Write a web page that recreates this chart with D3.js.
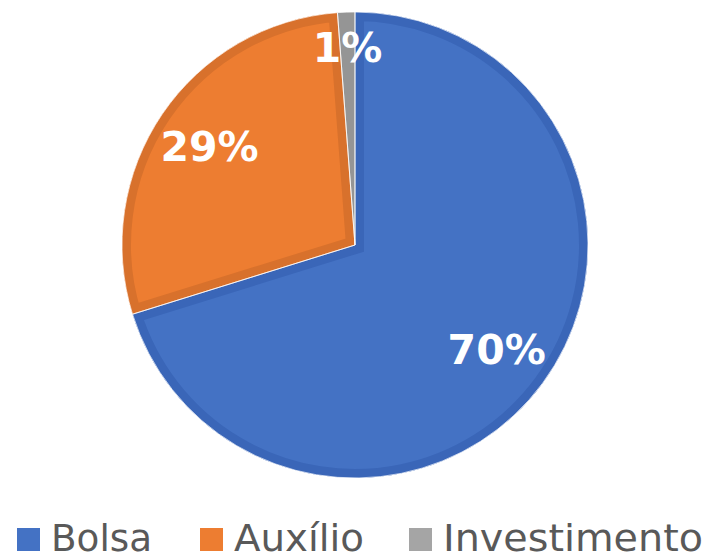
<!DOCTYPE html>
<html><head><meta charset="utf-8">
<script src="https://cdn.jsdelivr.net/npm/d3@7"></script>
<style>body{margin:0;background:#fff}svg{display:block}</style>
</head><body>
<script>
const categories = ["Bolsa", "Auxílio", "Investimento"];
const values = [70.2, 28.6, 1.2];
const labels = ["70%", "29%", "1%"];
const fills = ["#4472C4", "#ED7D31", "#A5A5A5"];
const borders = ["#3A66B8", "#D8712C", "#959595"];

const W = 713, H = 555;
const cx = 355, cy = 245, R = 233;
const svg = d3.select("body").append("svg").attr("width", W).attr("height", H);
const data = categories.map((c, i) => ({c, v: values[i], i}));
const pie = d3.pie().sort(null).value(d => d.v);
const arcs = pie(data);
const arc = d3.arc().innerRadius(0).outerRadius(R);
const defs = svg.append("defs");
const g = svg.append("g").attr("transform", `translate(${cx},${cy})`);

arcs.forEach((a, i) => {
  defs.append("clipPath").attr("id", "clip" + i).append("path").attr("d", arc(a));
});
g.selectAll("path.fill").data(arcs).join("path").attr("class", "fill")
  .attr("d", arc).attr("fill", d => fills[d.index]);
g.selectAll("path.border").data(arcs).join("path").attr("class", "border")
  .attr("d", arc).attr("fill", "none")
  .attr("stroke", d => borders[d.index]).attr("stroke-width", 18)
  .attr("stroke-linejoin", "miter")
  .attr("clip-path", d => `url(#clip${d.index})`);
g.selectAll("path.sep").data(arcs).join("path").attr("class", "sep")
  .attr("d", arc).attr("fill", "none").attr("stroke", "#fff").attr("stroke-width", 1).attr("stroke-opacity", 0.7);

// labels
g.selectAll("text.lbl").data(arcs).join("text").attr("class", "lbl")
  .attr("transform", d => {
    const total = d3.sum(values);
    const r = (d.value / total < 0.05) ? 0.85 * R : 0.755 * R;
    const la = d3.arc().innerRadius(r).outerRadius(r);
    const [x, y] = la.centroid(d);
    return `translate(${x},${y})`;
  })
  .attr("text-anchor", "middle").attr("dy", "0.36em")
  .attr("font-family", "DejaVu Sans, Verdana, sans-serif").attr("font-weight", "bold")
  .attr("font-size", 41).attr("fill", "#fff")
  .text((d, i) => labels[d.index]);

// legend
const legX = d3.scaleOrdinal().domain(categories).range([17, 200, 409]);
const legTextLen = [101, 130, 260];
const lg = svg.append("g");
categories.forEach((c, i) => {
  lg.append("rect").attr("x", legX(c)).attr("y", 528).attr("width", 23).attr("height", 23).attr("fill", fills[i]);
  lg.append("text").attr("x", legX(c) + 34).attr("y", 551)
    .attr("font-family", "DejaVu Sans, Verdana, sans-serif").attr("font-size", 38)
    .attr("fill", "#595959")
    .attr("textLength", legTextLen[i]).attr("lengthAdjust", "spacingAndGlyphs")
    .text(c);
});
</script>
</body></html>
